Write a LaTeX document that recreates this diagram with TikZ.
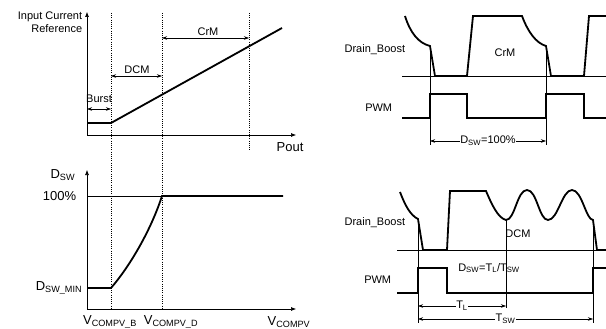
\documentclass[tikz,border=0pt]{standalone}
\usepackage{fontspec}
\setmainfont{Liberation Sans}
\usetikzlibrary{arrows.meta}

\tikzset{
  sig/.style={line width=1.8pt, line join=miter},
  thinline/.style={line width=0.5pt},
  guide/.style={line width=0.5pt, dash pattern=on 1pt off 1.2pt},
  axis/.style={line width=0.6pt, -{Latex[length=5pt,width=4pt]}},
  dim/.style={line width=0.5pt, {Stealth[length=5pt,width=3.5pt]}-{Stealth[length=5pt,width=3.5pt]}},
  dimlabel/.style={fill=white, inner sep=0.6pt},
}

\begin{document}
\begin{tikzpicture}[x=1pt,y=-1pt]
\fontsize{11}{13}\selectfont
\useasboundingbox (0,0) rectangle (606,329);
% input current reference against output power
\coordinate (o1) at (87,135);
\draw[axis] (o1) -- (87,12);
\draw[axis] (o1) -- (296,135);
\draw[guide] (111,13) -- (111,309);
\draw[guide] (162,13) -- (162,309);
\draw[guide] (249,13) -- (249,150);
\draw[sig] (87,123) -- (111,123) -- (282,28);
\coordinate (bu1) at (87,109);
\coordinate (bu2) at (111,109);
\coordinate (dc1) at (111,76);
\coordinate (dc2) at (162,76);
\coordinate (cr1) at (162,38);
\coordinate (cr2) at (249,38);
\draw[dim] (bu1) -- (bu2);
\draw[dim] (dc1) -- (dc2);
\draw[dim] (cr1) -- (cr2);
\node[anchor=east, align=right] (iref) at (86,22.5) {Input Current\\Reference};
\node (pout) at (290,147) {\fontsize{13}{15}\selectfont Pout};
\node (burst) at (99,99) {Burst};
\node (dcm) at (137,70) {DCM};
\node (crm) at (208,32) {CrM};
% duty cycle against compensation voltage
\coordinate (o2) at (87,309);
\draw[axis] (o2) -- (87,170);
\draw[axis] (o2) -- (296,309);
\draw[thinline] (87,196) -- (162,196);
\draw[sig] (87,288) -- (111,288) .. controls (130,266) and (151,230) .. (162,196) -- (283,196);
\node[anchor=east] (dsw) at (79,175) {\fontsize{13}{15}\selectfont D\textsubscript{SW}};
\node[anchor=east] (full) at (80,196) {\fontsize{13}{15}\selectfont 100\%};
\node[anchor=east] (dmin) at (86,288) {\fontsize{13}{15}\selectfont D\textsubscript{SW\_MIN}};
\node (vb) at (110,322) {\fontsize{13}{15}\selectfont V\textsubscript{COMPV\_B}};
\node (vd) at (171,322) {\fontsize{13}{15}\selectfont V\textsubscript{COMPV\_D}};
\node (vc) at (289,322) {\fontsize{13}{15}\selectfont V\textsubscript{COMPV}};
% CrM waveforms
\draw[thinline] (402,76) -- (606,76);
\draw[sig] (405,16) .. controls (410,32) and (418,43) .. (430,46) -- (435,76) -- (467,76)
  -- (473,16) -- (522,16) .. controls (528,32) and (536,43) .. (546,46) -- (551,76)
  -- (584,76) -- (589,16) -- (606,16);
\draw[sig] (402,118) -- (430,118) -- (430,94) -- (467,94) -- (467,118) -- (546,118)
  -- (546,94) -- (584,94) -- (584,118) -- (606,118);
\coordinate (c1) at (430,141);
\coordinate (c2) at (546,141);
\draw[thinline] (430,46) -- (430,145);
\draw[thinline] (546,46) -- (546,145);
\draw[dim] (c1) -- (c2) node[midway, dimlabel] (dfull) {D\textsubscript{SW}=100\%};
\node[anchor=east] (drain1) at (409,50) {Drain\_Boost};
\node (crm2) at (505,53) {CrM};
\node[anchor=east] (pwm1) at (396,108) {PWM};
% DCM waveforms
\draw[thinline] (397,250) -- (606,250);
\draw[sig] (400,192) .. controls (405,205) and (410,215) .. (418,219) -- (423,250) -- (447,250)
  -- (450,191) -- (486,191) .. controls (492,205) and (498,218) .. (506,220)
  .. controls (515,220) and (517,190) .. (527,190) .. controls (537,190) and (539,220) .. (548,220)
  .. controls (558,220) and (562,190) .. (572,190) .. controls (582,190) and (586,220) .. (593,220)
  -- (597,250) -- (606,250);
\draw[sig] (397,293) -- (418,293) -- (418,268) -- (447,268) -- (447,293) -- (593,293)
  -- (593,268) -- (606,268);
\coordinate (t1) at (418,306);
\coordinate (t2) at (506,306);
\coordinate (s1) at (418,319);
\coordinate (s2) at (593,319);
\draw[thinline] (418,219) -- (418,323);
\draw[thinline] (506,220) -- (506,308);
\draw[thinline] (593,220) -- (593,323);
\draw[dim] (t1) -- (t2) node[midway, dimlabel] (tl) {T\textsubscript{L}};
\draw[dim] (s1) -- (s2) node[midway, dimlabel] (tsw) {T\textsubscript{SW}};
\node[anchor=east] (drain2) at (409,223) {Drain\_Boost};
\node (dcm2) at (518,234) {DCM};
\node[anchor=east] (pwm2) at (395,280) {PWM};
\node (ratio) at (489,268) {D\textsubscript{SW}=T\textsubscript{L}/T\textsubscript{SW}};
\end{tikzpicture}
\end{document}
